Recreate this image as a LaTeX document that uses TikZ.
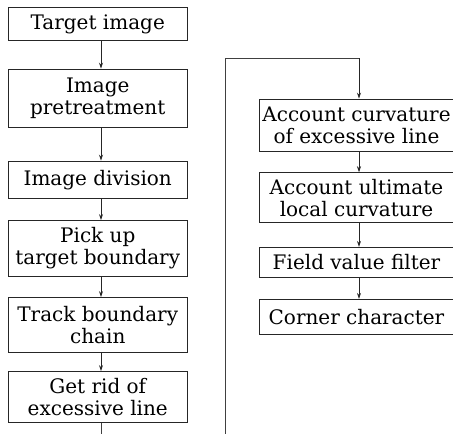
\documentclass[tikz,border=0pt]{standalone}
\usepackage{fontspec}
\setmainfont{DejaVu Serif}
\usetikzlibrary{arrows.meta}
\begin{document}
\begin{tikzpicture}[x=1pt,y=-1pt,
  box/.style={draw=black!85, line width=0.9pt, rectangle, inner sep=0pt, align=center,
    font=\fontsize{20}{22}\selectfont},
  lbox/.style={box, minimum width=178.5pt},
  rbox/.style={box, minimum width=195pt},
  arr/.style={draw=black!85, line width=0.7pt, -{Stealth[length=6pt,width=4pt]}},
  conn/.style={draw=black!75, line width=0.9pt}]
\useasboundingbox (0,0) rectangle (453,434);
% left column
\node[lbox, minimum height=33pt] (b1) at (97.75,24) {Target image};
\node[lbox, minimum height=58pt] (b2) at (97.75,98) {Image\\pretreatment};
\node[lbox, minimum height=37.5pt] (b3) at (97.75,179.75) {Image division};
\node[lbox, minimum height=56pt] (b4) at (97.75,248.5) {Pick up\\target boundary};
\node[lbox, minimum height=55pt] (b5) at (97.75,325) {Track boundary\\chain};
\node[lbox, minimum height=51pt] (b6) at (97.75,397) {Get rid of\\excessive line};
% right column
\node[rbox, minimum height=52pt] (r1) at (356.5,125) {Account curvature\\of excessive line};
\node[rbox, minimum height=50pt] (r2) at (356.5,197.7) {Account ultimate\\local curvature};
\node[rbox, minimum height=30pt] (r3) at (356.5,262.3) {Field value filter};
\node[rbox, minimum height=34.7pt] (r4) at (356.5,316.7) {Corner character};
% connectors left
\draw[arr] ([xshift=3.25pt]b1.south) -- ([xshift=3.25pt]b2.north);
\draw[arr] ([xshift=3.25pt]b2.south) -- ([xshift=3.25pt]b3.north);
\draw[arr] ([xshift=3.25pt]b3.south) -- ([xshift=3.25pt]b4.north);
\draw[arr] ([xshift=3.25pt]b4.south) -- ([xshift=3.25pt]b5.north);
\draw[arr] ([xshift=3.25pt]b5.south) -- ([xshift=3.25pt]b6.north);
\coordinate (lend) at (101,436);
\draw[conn] ([xshift=3.25pt]b6.south) -- (lend);
% loop into right column
\coordinate (rstart) at (225,436);
\coordinate (rtop) at (225,58);
\draw[conn] (rstart) -- (rtop) -- ([xshift=2.5pt]r1.north |- rtop);
\draw[arr] ([xshift=2.5pt]r1.north |- rtop) -- ([xshift=2.5pt]r1.north);
% connectors right
\draw[arr] ([xshift=2.5pt]r1.south) -- ([xshift=2.5pt]r2.north);
\draw[arr] ([xshift=2.5pt]r2.south) -- ([xshift=2.5pt]r3.north);
\draw[arr] ([xshift=2.5pt]r3.south) -- ([xshift=2.5pt]r4.north);
\end{tikzpicture}
\end{document}
